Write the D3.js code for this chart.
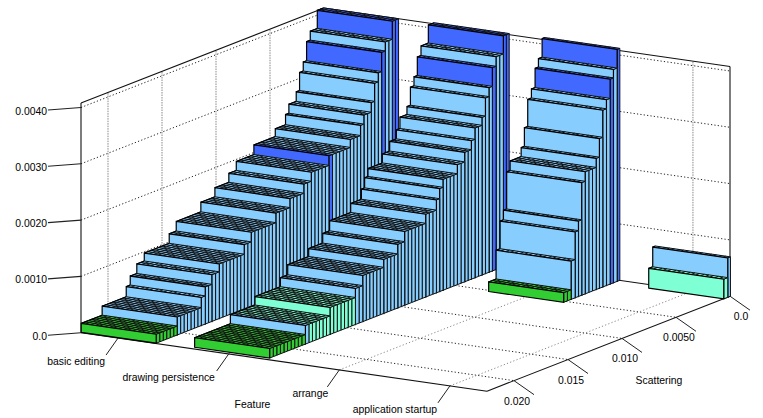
<!DOCTYPE html>
<html><head><meta charset="utf-8">
<script src="https://cdn.jsdelivr.net/npm/d3@7"></script>
<style>html,body{margin:0;padding:0;background:#fff}svg{display:block}text{font-family:"Liberation Sans",Arial,sans-serif;font-size:10.4px;fill:#000}</style>
</head><body><div id="c"></div>
<script>
const features=["basic editing","drawing persistence","arrange","application startup"];
const zTicks=[0,0.001,0.002,0.003,0.004];
const zLabels=["0.0","0.0010","0.0020","0.0030","0.0040"];
const sTicks=[0,0.005,0.01,0.015,0.02];
const sLabels=["0.0","0.0050","0.010","0.015","0.020"];
// 'front' scattering value and height of every step, nearest the viewer first
const basicScatter=[.02244,.0205,.01827,.0179,.01729,.0166,.01429,.01364,.01136,.01006,.00877,.00808,.00645,.00447,.00352,.00321,.00253,.00222,.00188,.00157,.00123,.00058];
const basicHeight=[.00016,.00032,.0005,.00066,.00083,.00097,.00114,.00131,.00148,.00164,.0018,.00196,.00213,.00227,.00245,.00261,.00278,.0031,.00326,.0036,.00376,.00408];
const basicTone=["g","b","b","b","b","b","b","b","b","b","b","b","r","b","b","b","b","b","b","r","b","r"];
const basicInner=["g","b","b","b","b","b","b","b","b","b","b","b","b","b","b","b","b","b","b","r","b","r"];
const drawingScatter=[.02218,.01887,.01659,.01424,.01356,.01162,.01032,.00968,.00773,.00674,.00644,.00613,.0048,.00412,.0035,.00317,.00252,.0022,.00187,.00156,.00122,.00054];
const drawingHeight=[.00017,.00033,.00048,.00064,.00082,.00096,.00113,.00131,.00147,.00165,.00183,.00197,.00213,.0023,.00246,.00266,.0028,.00312,.00328,.00361,.00378,.0041];
const drawingTone=["g","b","m","b","b","b","b","b","b","b","b","b","b","b","b","b","b","b","b","r","b","r"];
const drawingInner=["g","m","m","b","b","b","b","b","b","b","b","b","b","b","b","b","b","b","b","r","b","r"];
const arrangeScatter=[.0052,.00451,.00414,.00383,.00353,.00321,.00219,.00189,.00158,.00124,.0009,.00059,.00025];
const arrangeHeight=[.00017,.00068,.00117,.00134,.002,.00217,.00233,.00266,.00314,.0033,.00364,.00379,.00412];
const arrangeTone=["g","b","b","b","b","b","b","b","b","b","r","b","r"];
const startupScatter=[.00062,.00025];
const startupHeight=[.00035,.0007];
const startupTone=["m","b"];
const toneColours={g:"#32cd32",m:"#7fffd4",b:"#87ceff",r:"#4169ff"};

const W=763,H=418;
const svg=d3.select("#c").append("svg").attr("width",W).attr("height",H);
const scatterMax=.0225,zMax=.00408,binWidth=.000325,meshCells=16,halfBar=.0924;
const uS=d3.scalePoint().domain(features).range([0,1]).padding(.335);
const vS=d3.scaleLinear().domain([0,scatterMax]).range([1,0]);
const zS=d3.scaleLinear().domain([0,.001]).range([0,-56.3]);
const P=(u,s,z)=>{const v=vS(s);return [81+406*u+243*v, 332.7+58.5*u-95*v+zS(z)];};
const path=pts=>"M"+pts.map(p=>p[0].toFixed(2)+","+p[1].toFixed(2)).join("L")+"Z";
const seg=(g,a,b,col,w)=>g.append("path").attr("d","M"+a.join(",")+"L"+b.join(",")).attr("stroke",col).attr("stroke-width",w).attr("fill","none");
const line=(a,b,col,w,dash)=>{const l=svg.append("line").attr("x1",a[0]).attr("y1",a[1]).attr("x2",b[0]).attr("y2",b[1]).attr("stroke",col).attr("stroke-width",w);if(dash)l.attr("stroke-dasharray",dash);return l;};

// grid
const dotDark="#222",dotGrey="#888";
zTicks.slice(1).forEach(z=>{
  line(P(0,scatterMax,z),P(0,0,z),dotDark,1,"1.2 2.2");
  line(P(0,0,z),P(1,0,z),dotDark,1,"1.2 2.2");
});
sTicks.slice(1).forEach(s=>{
  line(P(0,s,0),P(0,s,zMax),dotGrey,1,"1.5 1");
  line(P(0,s,0),P(1,s,0),dotDark,1,"1.2 2.2");
});
features.forEach(f=>{
  line(P(uS(f),0,0),P(uS(f),0,zMax),dotGrey,1,"1.5 1");
  line(P(uS(f),scatterMax,0),P(uS(f),0,0),dotGrey,1,"1.2 2.2");
});
// box
const axisC="#111";
[[[0,scatterMax,0],[0,scatterMax,zMax]],[[0,scatterMax,zMax],[0,0,zMax]],[[0,0,zMax],[1,0,zMax]],[[1,0,zMax],[1,0,0]],
 [[0,0,0],[1,0,0]],[[0,0,0],[0,scatterMax,0]],[[0,scatterMax,0],[1,scatterMax,0]],[[1,scatterMax,0],[1,0,0]]]
 .forEach(([a,b])=>line(P(...a),P(...b),axisC,1.1));

// bars
function strip(f,scatter,height,tone,inner){
  const c=uS(f),uL=c-halfBar,uR=c+halfBar,g=svg.append("g");
  const n=scatter.length;
  for(let i=n-1;i>=0;i--){
    const sF=scatter[i],sB=i===n-1?0:scatter[i+1],h=height[i];
    const bins=Math.max(1,Math.round((sF-sB)/binWidth)),db=(sF-sB)/bins;
    // side stripes and top fills first, the mesh afterwards so nothing hides it
    for(let b=0;b<bins;b++){
      const s0=sB+b*db,s1=s0+db,isFront=b===bins-1;
      const col=toneColours[isFront?tone[i]:(inner?inner[i]:tone[i])];
      g.append("path").attr("d",path([P(uR,s1,0),P(uR,s0,0),P(uR,s0,h),P(uR,s1,h)])).attr("fill",col).attr("stroke","#111").attr("stroke-width",1);
      g.append("path").attr("d",path([P(uL,s1,h),P(uR,s1,h),P(uR,s0,h),P(uL,s0,h)])).attr("fill",col).attr("stroke",col).attr("stroke-width",.3);
    }
    for(let b=0;b<=bins;b++){
      const s=sB+b*db;
      seg(g,P(uL,s,h),P(uR,s,h),"#111",1);
    }
    for(let m=0;m<=meshCells;m++){
      const u=uL+(uR-uL)*m/meshCells;
      seg(g,P(u,sF,h),P(u,sB,h),"#111",1);
    }
    g.append("path").attr("d",path([P(uL,sF,0),P(uR,sF,0),P(uR,sF,h),P(uL,sF,h)])).attr("fill",toneColours[tone[i]]).attr("stroke","#000").attr("stroke-width",1.2);
    seg(g,P(uL,sF,h),P(uL,sB,h),"#000",1.1);
  }
}
strip(features[0],basicScatter,basicHeight,basicTone,basicInner);
strip(features[1],drawingScatter,drawingHeight,drawingTone,drawingInner);
strip(features[2],arrangeScatter,arrangeHeight,arrangeTone);
strip(features[3],startupScatter,startupHeight,startupTone);

// ticks and labels
const label=(x,y,t,anchor)=>svg.append("text").attr("x",x).attr("y",y).attr("text-anchor",anchor||"middle").text(t);
zTicks.forEach((z,i)=>{
  const p=P(0,scatterMax,z);
  line(p,[p[0]-33,p[1]+2.5],"#222",1.1);
  label(p[0]-34,p[1]+7,zLabels[i],"end");
});
const featureLabelShift=[42,60,29,55];
features.forEach((f,i)=>{
  const p=P(uS(f),scatterMax,0);
  line(p,[p[0]-12,p[1]+17],"#222",1);
  label(p[0]-featureLabelShift[i],p[1]+27,f,"middle");
});
sTicks.forEach((s,i)=>{
  const p=P(1,s,0);
  line(p,[p[0]+20,p[1]+14],"#222",1);
  label(p[0]+(i===0?11:3),p[1]+24,sLabels[i]);
});
label(252.5,408,"Feature");
label(659,384,"Scattering");
</script></body></html>
